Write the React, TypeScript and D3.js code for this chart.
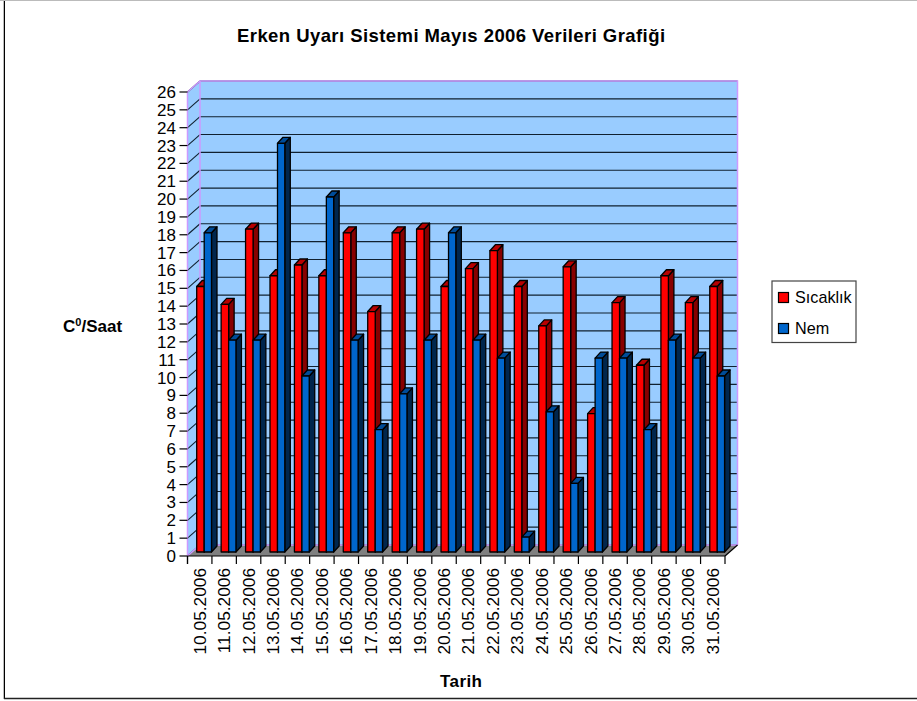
import React from "react";
import * as d3 from "d3";

const dates = ["10.05.2006","11.05.2006","12.05.2006","13.05.2006","14.05.2006","15.05.2006","16.05.2006","17.05.2006","18.05.2006","19.05.2006","20.05.2006","21.05.2006","22.05.2006","23.05.2006","24.05.2006","25.05.2006","26.05.2006","27.05.2006","28.05.2006","29.05.2006","30.05.2006","31.05.2006"];
const sicaklik = [15,14,18.2,15.6,16.2,15.6,18,13.6,18,18.2,15,16,17,15,12.8,16.1,7.9,14.1,10.6,15.6,14.1,15];
const nem = [18,12,12,23,10,20,12,7,9,12,18,12,11,1,8,4,11,11,7,12,11,10];
const yTicks = d3.range(0, 27);

const FONT = "'Liberation Sans', Arial, sans-serif";
const frontLeft = 187.5, frontRight = 725, frontBottom = 556, frontTop = 92;
const dx = 12.5, dy = -11;
const barDx = 5.5, barDy = -6;

const x = d3.scaleBand<string>().domain(dates).range([frontLeft, frontRight]);
const y = d3.scaleLinear().domain([0, 26]).range([frontBottom, frontTop]);
const yBar = d3.scaleLinear().domain([0, 26]).range([555, 555 - 26 * 17.9]);

const WALL = "#99CCFF", EDGE = "#CC99FF";

function Bar({ x0, w, v, front, top, side }: { x0: number; w: number; v: number; front: string; top: string; side: string }) {
  const b = 552;
  const t = yBar(v);
  return (
    <g stroke="#000" strokeWidth={1.3} strokeLinejoin="round">
      <polygon fill={side} points={`${x0 + w},${b} ${x0 + w + barDx},${b + barDy} ${x0 + w + barDx},${t + barDy} ${x0 + w},${t}`} />
      <polygon fill={top} points={`${x0},${t} ${x0 + w},${t} ${x0 + w + barDx},${t + barDy} ${x0 + barDx},${t + barDy}`} />
      <rect x={x0} y={t} width={w} height={b - t} fill={front} />
    </g>
  );
}

export default function App() {
  const step = x.step();
  return (
    <svg width={917} height={701} style={{ position: "absolute", left: 0, top: 0, background: "#fff" }} fontFamily={FONT}>
      <line x1={0} y1={0.5} x2={917} y2={0.5} stroke="#bbb" />
      <line x1={3.5} y1={1} x2={3.5} y2={699} stroke="#bbb" />
      <line x1={4.5} y1={1} x2={4.5} y2={699} stroke="#000" />
      <line x1={4} y1={698.5} x2={917} y2={698.5} stroke="#222" strokeWidth={1.5} />
      <text x={237} y={41.5} fontSize={18.5} letterSpacing={0.43} fontWeight="bold" fill="#000">Erken Uyarı Sistemi Mayıs 2006 Verileri Grafiği</text>

      {/* walls */}
      <polygon fill={WALL} points={`${frontLeft},${frontTop} ${frontLeft + dx},${frontTop + dy} ${frontLeft + dx},${frontBottom + dy} ${frontLeft},${frontBottom}`} />
      <rect x={frontLeft + dx} y={frontTop + dy} width={frontRight - frontLeft} height={frontBottom - frontTop} fill={WALL} />
      {yTicks.map((t) => (
        <g key={t} stroke="#10202f" strokeWidth={1.1}>
          <line x1={frontLeft} y1={y(t)} x2={frontLeft + dx} y2={y(t) + dy} />
          <line x1={frontLeft + dx} y1={y(t) + dy} x2={frontRight + dx} y2={y(t) + dy} />
        </g>
      ))}
      <polygon fill="#808080" points={`${frontLeft},${frontBottom} ${frontLeft + dx},${frontBottom + dy} ${frontRight + dx},${frontBottom + dy} ${frontRight},${frontBottom}`} />
      <g fill="none" stroke={EDGE} strokeWidth={1.5}>
        <polyline points={`${frontLeft},${frontBottom} ${frontLeft},${frontTop} ${frontLeft + dx},${frontTop + dy} ${frontRight + dx},${frontTop + dy} ${frontRight + dx},${frontBottom + dy} `} />
        <polyline points={`${frontLeft},${frontBottom} ${frontLeft + dx},${frontBottom + dy} ${frontLeft + dx},${frontTop + dy}`} />
        <line x1={frontLeft + dx} y1={frontBottom + dy} x2={frontRight + dx} y2={frontBottom + dy} />
      </g>

      {/* bars */}
      {dates.map((d, i) => {
        const c = x(d)!;
        return (
          <g key={d}>
            <Bar x0={c + 9.2} w={7.5} v={sicaklik[i]} front="#FF0000" top="#B80000" side="#880000" />
            <Bar x0={c + 16.7} w={7.3} v={nem[i]} front="#0066CC" top="#004C99" side="#00264D" />
          </g>
        );
      })}

      {/* axes */}
      <g stroke="#000" strokeWidth={1.2}>
        <line x1={frontLeft} y1={frontBottom} x2={frontLeft} y2={frontBottom + 8} />
        <line x1={frontLeft} y1={frontBottom} x2={frontRight} y2={frontBottom} />
        <line x1={frontRight} y1={frontBottom} x2={frontRight + dx} y2={frontBottom + dy} />
        {yTicks.map((t) => <line key={t} x1={frontLeft - 8} y1={y(t)} x2={frontLeft} y2={y(t)} />)}
        {dates.map((d) => <line key={d} x1={x(d)!} y1={frontBottom} x2={x(d)!} y2={frontBottom + 8} />)}
        <line x1={frontRight} y1={frontBottom} x2={frontRight} y2={frontBottom + 8} />
      </g>
      {yTicks.map((t) => (
        <text key={t} x={176} y={y(t) + 6} textAnchor="end" fontSize={17} fill="#000">{t}</text>
      ))}
      {dates.map((d) => (
        <text key={d} transform={`translate(${x(d)! + step / 2 + 6},${568}) rotate(-90)`} textAnchor="end" fontSize={17.3} fill="#000">{d}</text>
      ))}

      <text x={63} y={331.5} fontSize={17} fontWeight="bold">C<tspan fontSize={11} dy={-6}>0</tspan><tspan dy={6}>/Saat</tspan></text>
      <text x={440} y={686.5} fontSize={17} letterSpacing={0.4} fontWeight="bold">Tarih</text>

      {/* legend */}
      <rect x={772} y={281} width={84} height={61.5} fill="#fff" stroke="#444" strokeWidth={1.2} />
      <rect x={778.5} y={292.5} width={10} height={10} fill="#FF0000" stroke="#000" strokeWidth={1.2} />
      <rect x={778.5} y={323.5} width={10} height={10} fill="#0066CC" stroke="#000" strokeWidth={1.2} />
      <text x={795} y={302.5} fontSize={16.2}>Sıcaklık</text>
      <text x={795} y={334} fontSize={16.2}>Nem</text>
    </svg>
  );
}
